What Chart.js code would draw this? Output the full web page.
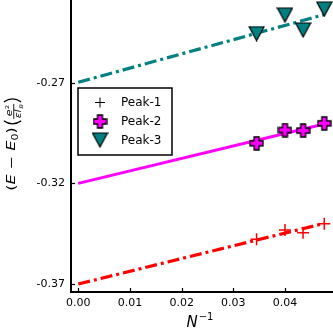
<!DOCTYPE html>
<html>
<head>
<meta charset="utf-8">
<script src="https://cdn.jsdelivr.net/npm/chart.js@4"></script>
<style>
  html, body { margin: 0; padding: 0; background: #fff; overflow: hidden; }
  #wrap { width: 333px; height: 333px; }
</style>
</head>
<body>
<div id="wrap"><canvas id="c" width="333" height="333"></canvas></div>
<script>
// values
const invN = [0.0345, 0.0400, 0.0435, 0.0476];
const peak1 = [-0.3478, -0.3432, -0.3445, -0.3401];
const peak2 = [-0.3001, -0.2935, -0.2938, -0.2902];
const peak3 = [-0.2456, -0.2364, -0.2438, -0.2334];
const fitX = [0, 0.0476];
const fit1 = [-0.3700, -0.3399];
const fit2 = [-0.3200, -0.2905];
const fit3 = [-0.2698, -0.2362];
const xTicks = [0, 0.01, 0.02, 0.03, 0.04];
const yTicks = [-0.37, -0.32, -0.27];
const seriesNames = ['Peak-1', 'Peak-2', 'Peak-3'];

const RED = '#ff0000', MAGENTA = '#ff00ff', TEAL = '#008080';
const FONT = "'DejaVu Sans', sans-serif";

function pts(xs, ys) { return xs.map((x, i) => ({ x: x, y: ys[i] })); }

// filled plus with black edge (like matplotlib 'P')
function plusMarker(fill) {
  const s = 15, c = document.createElement('canvas');
  c.width = s; c.height = s;
  const g = c.getContext('2d');
  const a = 1, b = 5, d = 10, e = 14;
  g.beginPath();
  g.moveTo(b, a); g.lineTo(d, a); g.lineTo(d, b); g.lineTo(e, b); g.lineTo(e, d);
  g.lineTo(d, d); g.lineTo(d, e); g.lineTo(b, e); g.lineTo(b, d); g.lineTo(a, d);
  g.lineTo(a, b); g.lineTo(b, b); g.closePath();
  g.fillStyle = fill; g.fill();
  g.lineWidth = 1.3; g.strokeStyle = '#000'; g.stroke();
  return c;
}

// downward triangle with black edge (like matplotlib 'v')
function triMarker(fill) {
  const c = document.createElement('canvas');
  c.width = 17; c.height = 16;
  const g = c.getContext('2d');
  g.beginPath();
  g.moveTo(1, 1); g.lineTo(16, 1); g.lineTo(8.5, 15); g.closePath();
  g.fillStyle = fill; g.fill();
  g.lineWidth = 1.2; g.strokeStyle = '#000'; g.stroke();
  return c;
}

const plusImg = plusMarker(MAGENTA);
const triImg = triMarker(TEAL);

// inward ticks, axis titles, legend box
const extras = {
  id: 'extras',
  afterDraw(chart) {
    const ctx = chart.ctx, a = chart.chartArea;
    const xs = chart.scales.x, ys = chart.scales.y;
    ctx.save();
    ctx.strokeStyle = '#000';
    ctx.lineWidth = 1.2;
    xTicks.forEach(v => {
      const p = Math.round(xs.getPixelForValue(v)) + 0.5;
      ctx.beginPath(); ctx.moveTo(p, a.bottom); ctx.lineTo(p, a.bottom - 4); ctx.stroke();
    });
    yTicks.forEach(v => {
      const p = Math.round(ys.getPixelForValue(v)) + 0.5;
      ctx.beginPath(); ctx.moveTo(a.left, p); ctx.lineTo(a.left + 4, p); ctx.stroke();
    });

    // x title: N^-1
    ctx.fillStyle = '#000';
    ctx.textBaseline = 'alphabetic';
    ctx.textAlign = 'left';
    ctx.font = 'italic 15px ' + FONT;
    const wN = ctx.measureText('N').width;
    ctx.font = '10px ' + FONT;
    const wS = ctx.measureText('\u22121').width;
    let x0 = 200 - (wN + wS + 1) / 2;
    ctx.font = 'italic 15px ' + FONT;
    ctx.fillText('N', x0, 327);
    ctx.font = '10px ' + FONT;
    ctx.fillText('\u22121', x0 + wN + 1, 320);

    // y title: (E - E0)(e^2 / eps l_B), rotated and squeezed across
    ctx.save();
    ctx.translate(15, 143);
    ctx.rotate(-Math.PI / 2);
    ctx.scale(1, 0.72);
    const parts = [
      { t: '(', f: '16px ' + FONT, dy: 0 },
      { t: 'E', f: 'italic 16px ' + FONT, dy: 0 },
      { t: ' \u2212 ', f: '16px ' + FONT, dy: 0 },
      { t: 'E', f: 'italic 16px ' + FONT, dy: 0 },
      { t: '0', f: '11px ' + FONT, dy: 4 },
      { t: ')', f: '16px ' + FONT, dy: 0 },
      { big: 'L', w: 8 },
      { frac: true, w: 16 },
      { big: 'R', w: 8 }
    ];
    let total = 0;
    parts.forEach(p => {
      if (!p.w) { ctx.font = p.f; p.w = ctx.measureText(p.t).width; }
      total += p.w;
    });
    let cx = -total / 2;
    ctx.strokeStyle = '#000';
    ctx.lineWidth = 1.4;
    parts.forEach(p => {
      if (p.frac) {
        ctx.font = 'italic 11px ' + FONT;
        ctx.fillText('e', cx + 3, -3.5);
        ctx.font = '7px ' + FONT;
        ctx.fillText('2', cx + 10, -8);
        ctx.fillRect(cx + 0.5, -2.3, p.w - 1, 1.2);
        ctx.font = 'italic 11px ' + FONT;
        ctx.fillText('\u03b5l', cx + 1, 8.5);
        ctx.font = 'italic 7px ' + FONT;
        ctx.fillText('B', cx + 10.5, 10.5);
      } else if (p.big) {
        // tall thin parentheses
        const outer = p.big === 'L' ? cx + 6.5 : cx + 1.5;
        const inner = p.big === 'L' ? cx + 0.5 : cx + 7.5;
        ctx.beginPath();
        ctx.moveTo(outer, -15.5);
        ctx.quadraticCurveTo(inner, -3.5, outer, 8.5);
        ctx.stroke();
      } else {
        ctx.font = p.f;
        ctx.fillText(p.t, cx, p.dy);
      }
      cx += p.w;
    });
    ctx.restore();

    // legend
    const lx = 78, ly = 88, lw = 94, lh = 67;
    ctx.fillStyle = '#fff';
    ctx.fillRect(lx, ly, lw, lh);
    ctx.lineWidth = 1.5;
    ctx.strokeStyle = '#000';
    ctx.strokeRect(lx, ly, lw, lh);
    const rows = [102.5, 121.5, 140];
    // Peak-1 marker: thin black plus
    ctx.lineWidth = 1;
    ctx.beginPath();
    ctx.moveTo(100, rows[0] - 5); ctx.lineTo(100, rows[0] + 5);
    ctx.moveTo(95, rows[0]); ctx.lineTo(105, rows[0]);
    ctx.stroke();
    ctx.drawImage(plusImg, 100 - 7.5, rows[1] - 7.5, 15, 15);
    ctx.drawImage(triImg, 100 - 8.5, rows[2] - 8, 17, 16);
    ctx.fillStyle = '#000';
    ctx.font = '12px ' + FONT;
    ctx.textBaseline = 'middle';
    seriesNames.forEach((n, i) => ctx.fillText(n, 121, rows[i] + 0.5));
    ctx.restore();
  }
};

function noPad(s) { s.paddingTop = 0; s.paddingBottom = 0; s.paddingLeft = 0; s.paddingRight = 0; }

new Chart(document.getElementById('c'), {
  type: 'scatter',
  data: {
    datasets: [
      { label: 'fit1', type: 'line', data: pts(fitX, fit1), borderColor: RED, borderWidth: 3.2,
        borderDash: [12, 4, 3, 4], pointRadius: 0, fill: false, order: 2 },
      { label: 'fit2', type: 'line', data: pts(fitX, fit2), borderColor: MAGENTA, borderWidth: 3,
        pointRadius: 0, fill: false, order: 2 },
      { label: 'fit3', type: 'line', data: pts(fitX, fit3), borderColor: TEAL, borderWidth: 3.2,
        borderDash: [12, 4, 3, 4], pointRadius: 0, fill: false, order: 2 },
      { label: seriesNames[0], data: pts(invN, peak1), pointStyle: 'cross', pointRadius: 6,
        borderColor: RED, borderWidth: 1.5, showLine: false, order: 1 },
      { label: seriesNames[1], data: pts(invN, peak2), pointStyle: plusImg,
        showLine: false, order: 1 },
      { label: seriesNames[2], data: pts(invN, peak3), pointStyle: triImg,
        showLine: false, order: 1 }
    ]
  },
  options: {
    responsive: false,
    animation: false,
    events: [],
    layout: { padding: 0, autoPadding: false },
    plugins: { legend: { display: false }, tooltip: { enabled: false } },
    scales: {
      x: {
        type: 'linear',
        min: -0.00141, max: 0.04929,
        afterBuildTicks: s => { s.ticks = xTicks.map(v => ({ value: v })); },
        afterFit: s => { s.height = 41; noPad(s); },
        grid: { display: false, drawTicks: false },
        border: { display: true, color: '#000', width: 2 },
        ticks: { color: '#000', font: { family: FONT, size: 11 }, padding: 5,
          maxRotation: 0, autoSkip: false, callback: v => v.toFixed(2) }
      },
      y: {
        type: 'linear',
        min: -0.37397, max: -0.22892,
        afterBuildTicks: s => { s.ticks = yTicks.map(v => ({ value: v })); },
        afterFit: s => { s.width = 71; noPad(s); },
        grid: { display: false, drawTicks: false },
        border: { display: true, color: '#000', width: 2 },
        ticks: { color: '#000', font: { family: FONT, size: 11 }, padding: 6,
          autoSkip: false, callback: v => v.toFixed(2) }
      }
    }
  },
  plugins: [extras]
});
</script>
</body>
</html>
